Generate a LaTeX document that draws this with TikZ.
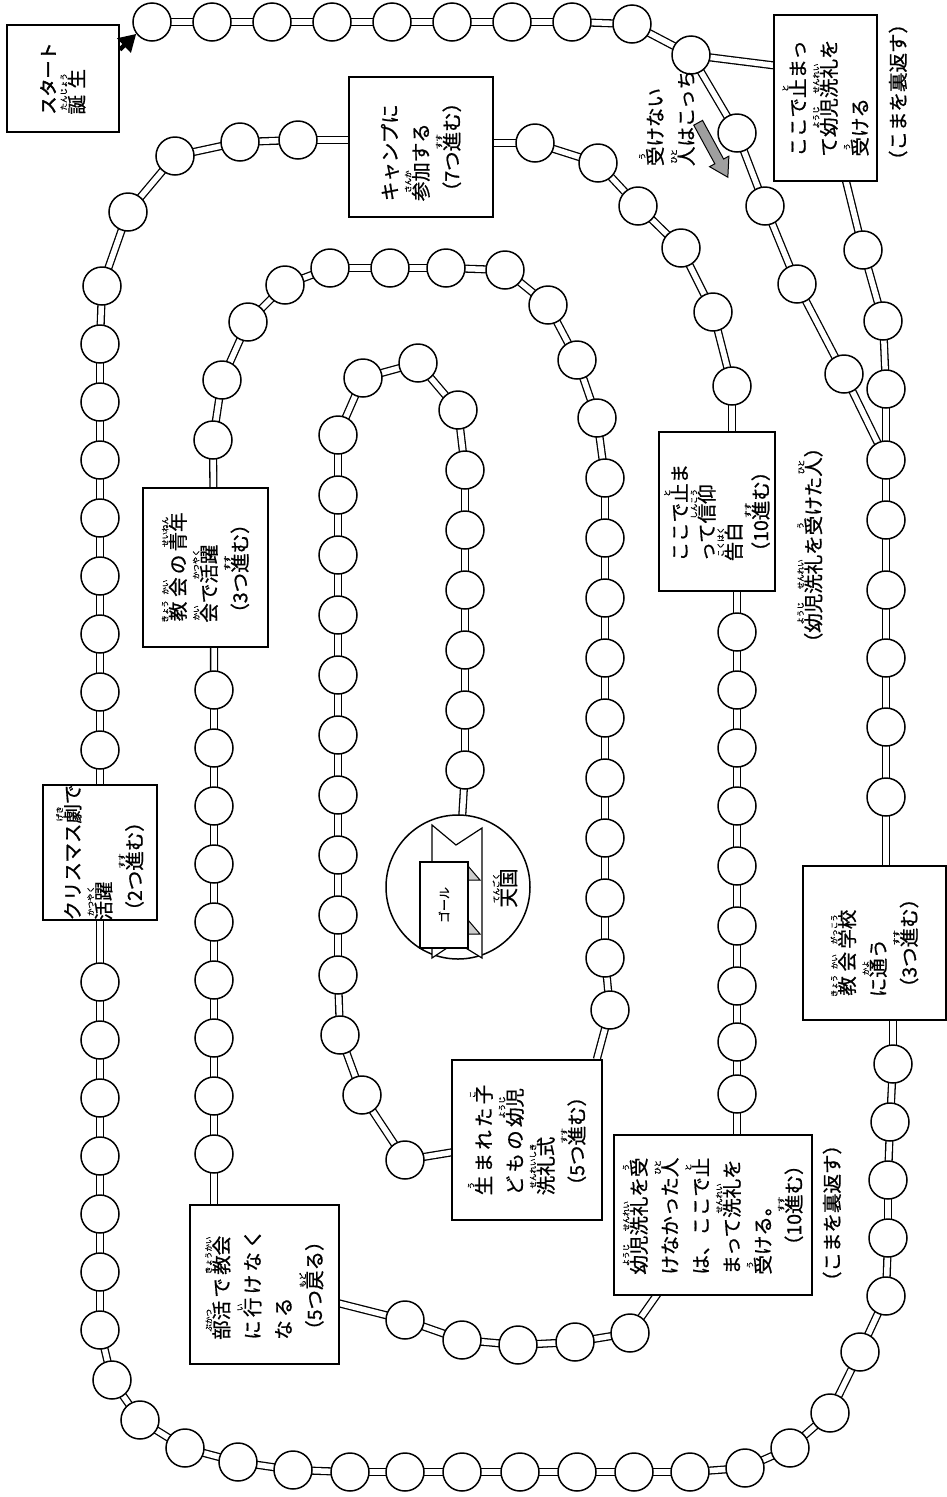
\documentclass[tikz,border=0pt]{standalone}
\usepackage{fontspec}
\setmainfont{Noto Sans CJK JP}[FakeBold=0.8]
\newfontfamily\jpb{Noto Sans CJK JP}[FakeBold=2.5]
\usetikzlibrary{backgrounds,arrows.meta}
\newcommand\rbf{\fontsize{7.5}{8}\selectfont}
\newcommand\rb[2]{\leavevmode\begingroup\setbox0=\hbox{#1}\setbox2=\hbox{\rbf #2}%
\dimen0=\wd0 \ifdim\wd2>\dimen0 \dimen0=\wd2 \fi
\hbox to \dimen0{\hss\vbox{\offinterlineskip\halign{\hfil##\hfil\cr\box2\cr\noalign{\kern0.6pt}\box0\cr}}\hss}\endgroup}
\newcommand\bt{\fontsize{19.5}{31}\selectfont\lineskiplimit=-20pt}
\newcommand\btn{\fontsize{19.5}{27}\selectfont\lineskiplimit=-20pt}
\tikzset{
 sq/.style={circle, draw, line width=1.5pt, fill=white, minimum size=38pt, inner sep=0pt},
 trk/.style={draw, double=white, double distance=5.5pt, line width=1.3pt},
 bx/.style={rectangle, draw, line width=1.6pt, fill=white, inner sep=0pt},
 lbl/.style={rotate=90, font=\bt, inner sep=0pt, align=left},
}
\begin{document}
\begin{tikzpicture}[x=1pt,y=-1pt]
\useasboundingbox (0,0) rectangle (946,1497);
% boxes
\node[bx, minimum width=112pt, minimum height=107pt] (start) at (63,78.5) {};
\node[bx, minimum width=103pt, minimum height=166pt] (bap) at (825.5,98) {};
\node[bx, minimum width=144pt, minimum height=140pt] (camp) at (421,147) {};
\node[bx, minimum width=116pt, minimum height=159pt] (faith) at (717,511.5) {};
\node[bx, minimum width=198pt, minimum height=160pt] (nb) at (713,1215) {};
\node[bx, minimum width=143pt, minimum height=154pt] (school) at (874.5,943) {};
\node[bx, minimum width=114pt, minimum height=135pt] (xmas) at (100,852.5) {};
\node[bx, minimum width=125pt, minimum height=159pt] (seinen) at (205.5,567.5) {};
\node[bx, minimum width=149pt, minimum height=159pt] (bukatsu) at (264.5,1284.5) {};
\node[bx, minimum width=150pt, minimum height=160pt] (umare) at (527,1140) {};
% circles
\foreach \n/\x/\y in {o1/152/22,o2/212/22,o3/272/22,o4/332/22,o5/392/22,o6/452/22,o7/512/22,o8/572/22,o9/632/24,o10/691/55,
 a1/737/133,a2/765/206,a3/797/284,a4/844/374,b1/863/250,b2/883/321,b3/886/389,
 m/886/460,r1/886/520,r2/886/590,r3/886/658,r4/886/727,r5/886/797,
 r6/893/1064,r7/890/1122,r8/888/1180,r9/888/1238,r10/886/1296,r11/860/1352,r12/830/1413,r13/790/1448,r14/745/1468,
 r15/690/1472,r16/634/1472,r17/577/1472,r18/520/1472,r19/462/1472,r20/405/1472,r21/350/1472,r22/293/1470,r23/238/1462,
 r24/185/1448,r25/140/1420,r26/112/1380,
 l1/100/1330,l2/100/1272,l3/100/1214,l4/100/1156,l5/100/1098,l6/100/1040,l7/100/982,
 l8/100/750,l9/100/692,l10/100/634,l11/100/576,l12/100/518,l13/100/460,l14/100/402,l15/100/344,l16/102/286,l17/128/212,l18/175/156,l19/240/142,l20/298/140,
 k1/535/143,k2/598/163,k3/638/206,k4/681/248,k5/713/312,k6/732/386,
 f1/737/632,f2/737/690,f3/737/748,f4/737/806,f5/737/866,f6/737/926,f7/737/986,f8/737/1042,f9/737/1094,
 n1/630/1333,n2/575/1342,n3/518/1345,n4/462/1340,n5/405/1320,
 c1/214/1154,c2/214/1096,c3/214/1038,c4/214/980,c5/214/922,c6/214/864,c7/214/806,c8/214/748,c9/214/690,
 c10/213/440,c11/222/380,c12/248/322,c13/285/285,c14/330/268,c15/390/268,c16/446/268,c17/505/270,c18/548/305,c19/577/360,c20/597/418,
 c21/605/478,c22/605/538,c23/605/598,c24/605/658,c25/605/718,c26/605/778,c27/605/838,c28/605/898,c29/605/958,c30/610/1010,
 i1/405/1160,i2/362/1095,i3/340/1035,i4/338/975,i5/338/915,i6/338/855,i7/338/795,i8/338/735,i9/338/675,i10/338/615,i11/338/555,i12/338/495,i13/338/435,
 i14/363/378,i15/418/363,i16/458/410,i17/465/470,i18/465/530,i19/465/590,i20/465/650,i21/465/710,i22/465/770}
 \node[sq] (\n) at (\x,\y) {};
\node[circle, draw, line width=1.5pt, fill=white, minimum size=144pt] (goal) at (458,887) {};
% tracks
\begin{pgfonlayer}{background}
\fill[white] (0,0) rectangle (946,1497);
\foreach \a/\b in {o1/o2,o2/o3,o3/o4,o4/o5,o5/o6,o6/o7,o7/o8,o8/o9,o9/o10,o10/a1,a1/a2,a2/a3,a3/a4,a4/m,
 bap/b1,b1/b2,b2/b3,b3/m,m/r1,r1/r2,r2/r3,r3/r4,r4/r5,
 r6/r7,r7/r8,r8/r9,r9/r10,r10/r11,r11/r12,r12/r13,r13/r14,r14/r15,r15/r16,r16/r17,r17/r18,r18/r19,r19/r20,r20/r21,r21/r22,r22/r23,r23/r24,r24/r25,r25/r26,r26/l1,
 l1/l2,l2/l3,l3/l4,l4/l5,l5/l6,l6/l7,l8/l9,l9/l10,l10/l11,l11/l12,l12/l13,l13/l14,l14/l15,l15/l16,l16/l17,l17/l18,l18/l19,l19/l20,
 k1/k2,k2/k3,k3/k4,k4/k5,k5/k6,f1/f2,f2/f3,f3/f4,f4/f5,f5/f6,f6/f7,f7/f8,f8/f9,
 nb/n1,n1/n2,n2/n3,n3/n4,n4/n5,n5/bukatsu,c1/c2,c2/c3,c3/c4,c4/c5,c5/c6,c6/c7,c7/c8,c8/c9,
 c10/c11,c11/c12,c12/c13,c13/c14,c14/c15,c15/c16,c16/c17,c17/c18,c18/c19,c19/c20,c20/c21,c21/c22,c22/c23,c23/c24,c24/c25,c25/c26,c26/c27,c27/c28,c28/c29,c29/c30,
 umare/i1,i1/i2,i2/i3,i3/i4,i4/i5,i5/i6,i6/i7,i7/i8,i8/i9,i9/i10,i10/i11,i11/i12,i12/i13,i13/i14,i14/i15,i15/i16,i16/i17,i17/i18,i18/i19,i19/i20,i20/i21,i21/i22,i22/goal}
 \draw[trk] (\a.center) -- (\b.center);
\draw[trk] (o10.center) -- (bap.148);
\draw[trk] (c30.center) -- ([xshift=-6pt]umare.north east);
\draw[trk] (r5.center) -- (r5.center |- school.center);
\draw[trk] (r6.center |- school.center) -- (r6.center);
\draw[trk] (l7.center) -- (l7.center |- xmas.center) -- (l8.center);
\draw[trk] (l20.center) -- (l20.center -| camp.center);
\draw[trk] (k1.center -| camp.center) -- (k1.center);
\draw[trk] (k6.center) -- (k6.center |- faith.center);
\draw[trk] (f1.center |- faith.center) -- (f1.center);
\draw[trk] (f9.center) -- (f9.center |- nb.center);
\draw[trk] (c1.center |- bukatsu.center) -- (c1.center);
\draw[trk] (c9.center) -- (c9.center |- seinen.center) -- (c10.center);
\end{pgfonlayer}
% start arrow
\draw[line width=4.5pt, -{Triangle[length=17pt,width=19pt]}] (start.27) -- (o1.217);
% texts
\node[lbl] at (start.center) {{\jpb\fontsize{18}{22}\selectfont スタート}\\[-2pt]\rb{誕\,\,生}{たんじょう}};
\node[lbl] at (bap.center) {ここで\rb{止}{と}まっ\\て\rb{幼児}{ようじ}\rb{洗礼}{せんれい}を\\\rb{受}{う}ける};
\node[lbl] at (898,92) {（こまを裏返す）};
\node[lbl] at (667,118) {\rb{受}{う}けない\\\rb{人}{ひと}はこっち};
\node[lbl] at (camp.center) {キャンプに\\\rb{参加}{さんか}する\\（7つ\rb{進}{すす}む）};
\node[lbl, font=\btn] at (faith.center) {ここで\rb{止}{と}ま\\って\rb{信仰}{しんこう}\\\rb{告白}{こくはく}\\（10\rb{進}{すす}む）};
\node[lbl] at (810,545) {（\rb{幼児}{ようじ}\rb{洗礼}{せんれい}を\rb{受}{う}けた\rb{人}{ひと}）};
\node[lbl] at (seinen.center) {\rb{教}{きょう}\,\rb{会}{かい}\,の\,\rb{青年}{せいねん}\\\rb{会}{かい}で\rb{活躍}{かつやく}\\（3つ\rb{進}{すす}む）};
\node[lbl] at (xmas.center) {クリスマス\rb{劇}{げき}で\\\rb{活躍}{かつやく}\\（2つ\rb{進}{すす}む）};
\node[lbl] at (school.center) {\rb{教}{きょう}\,\rb{会}{かい}\,\rb{学校}{がっこう}\\に\rb{通}{かよ}う\\（3つ\rb{進}{すす}む）};
\node[lbl] at (nb.center) {\rb{幼児}{ようじ}\rb{洗礼}{せんれい}を\rb{受}{う}\\けなかった\rb{人}{ひと}\\は、ここで\rb{止}{と}\\まって\rb{洗礼}{せんれい}を\\\rb{受}{う}ける。\\\quad（10\rb{進}{すす}む）};
\node[lbl] at (832,1213) {（こまを裏返す）};
\node[lbl] at (umare.center) {\rb{生}{う}\,ま\,れ\,た\,\rb{子}{こ}\\ど\,も\,の\,\rb{幼児}{ようじ}\\\rb{洗礼式}{せんれいしき}\\（5つ\rb{進}{すす}む）};
\node[lbl] at (bukatsu.center) {\rb{部活}{ぶかつ}\,で\,\rb{教会}{きょうかい}\\に\,\rb{行}{い}\,け\,な\,く\\な\,る\\（5つ\rb{戻}{もど}る）};
% goal banner
\filldraw[fill=white, line width=1.2pt] (432,825) -- (456,845) -- (482,828) -- (482,958) -- (456,942) -- (432,958) -- cycle;
\filldraw[fill=gray!40, line width=1pt] (468,866) -- (480,880) -- (468,880) -- cycle;
\filldraw[fill=gray!40, line width=1pt] (468,920) -- (480,934) -- (468,934) -- cycle;
\node[bx, line width=1.2pt, minimum width=48pt, minimum height=86pt] (gp) at (444,905) {};
\node[rotate=90, font=\fontsize{12}{14}\selectfont] at (gp.center) {ゴール};
\node[lbl] at (505,888) {\rb{天国}{てんごく}};
% gray arrow
\begin{scope}[shift={(713,150)}, rotate=-61.4]
\filldraw[fill=gray!75, line width=1pt] (-31,-5) -- (13,-5) -- (13,-11) -- (31,0) -- (13,11) -- (13,5) -- (-31,5) -- cycle;
\end{scope}
\end{tikzpicture}
\end{document}
